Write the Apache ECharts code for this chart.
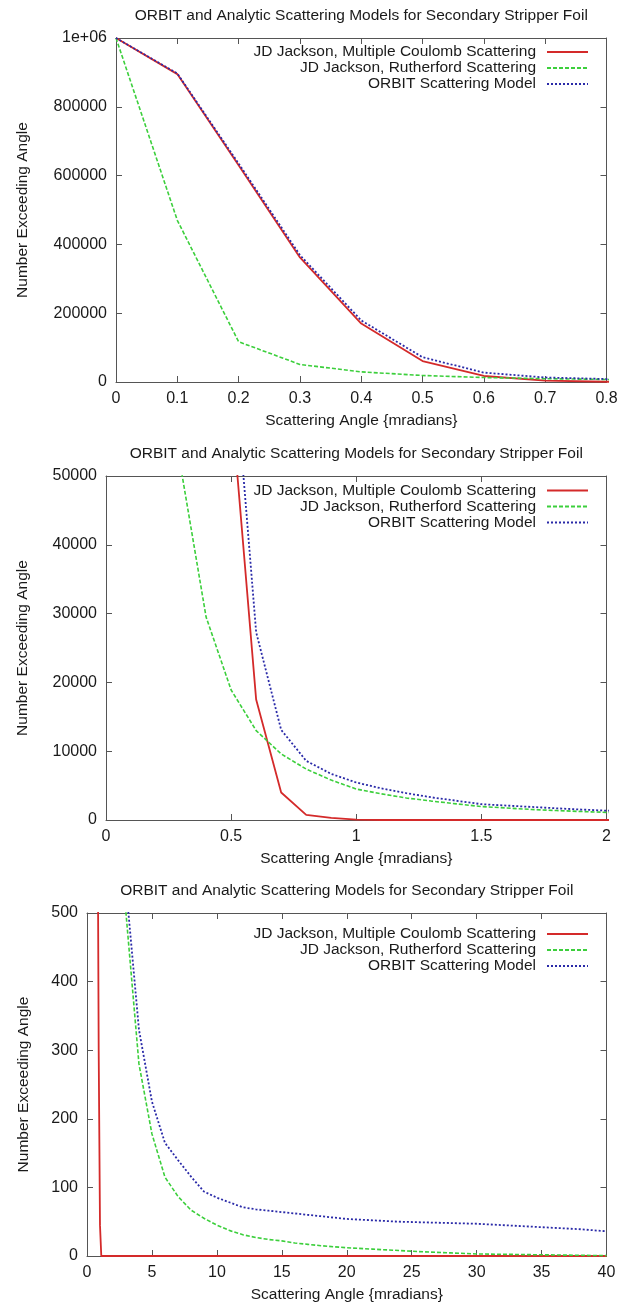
<!DOCTYPE html>
<html>
<head>
<meta charset="utf-8">
<title>ORBIT and Analytic Scattering Models</title>
<script src="https://cdn.jsdelivr.net/npm/echarts@6/dist/echarts.min.js"></script>
<style>
  html, body { margin: 0; padding: 0; background: #fff; }
  #chart { width: 627px; height: 1304px; }
</style>
</head>
<body>
<div id="chart"></div>
<script>
// scattering angle in mradians (fine steps up to 2, then coarser)
const angles = [
  0, 0.1, 0.2, 0.3, 0.4, 0.5, 0.6, 0.7, 0.8, 0.9, 1.0,
  1.1, 1.2, 1.3, 1.4, 1.5, 1.6, 1.7, 1.8, 1.9, 2.0,
  3, 4, 5, 6, 7, 8, 9, 10, 11, 12, 13, 14, 15, 16, 17, 18, 19, 20,
  22, 24, 26, 28, 30, 32, 34, 36, 38, 40
]
// number of particles exceeding the angle
const multipleCoulomb = [
  1000000, 895000, 630000, 362000, 170000, 61000, 17500, 4000, 740, 300, 45,
  0, 0, 0, 0, 0, 0, 0, 0, 0, 0,
  0, 0, 0, 0, 0, 0, 0, 0, 0, 0, 0, 0, 0, 0, 0, 0, 0, 0,
  0, 0, 0, 0, 0, 0, 0, 0, 0, 0
]
const rutherford = [
  1000000, 470000, 117000, 51000, 29500, 18900, 13000, 9600, 7400, 5800, 4500,
  3800, 3200, 2750, 2350, 1950, 1750, 1530, 1380, 1230, 1110,
  500, 280, 178, 115, 87, 67, 55, 45, 37, 31, 27, 24, 22, 19, 17, 15, 13.5, 12,
  10, 8, 6, 4.5, 3, 2.5, 2, 1.5, 1, 0.5
]
const orbitModel = [
  1000000, 897000, 635000, 369000, 179000, 72000, 27300, 13100, 8600, 6700, 5450,
  4600, 3900, 3300, 2800, 2300, 2100, 1900, 1700, 1520, 1360,
  540, 330, 225, 165, 140, 116, 94, 85, 78, 71, 68, 66, 64, 62, 60, 58, 56, 54,
  52, 50, 49, 48, 47, 45, 43, 41, 39, 36
]

const seriesNames = [
  'JD Jackson, Multiple Coulomb Scattering',
  'JD Jackson, Rutherford Scattering',
  'ORBIT Scattering Model'
]
const seriesValues = [multipleCoulomb, rutherford, orbitModel]
const titleText = 'ORBIT and Analytic Scattering Models for Secondary Stripper Foil'
const xName = 'Scattering Angle {mradians}'
const yName = 'Number Exceeding Angle'

// three zoom levels of the same data
const panels = [
  { left: 116, top: 38, xMax: 0.8, xStep: 0.1, yMax: 1000000, yStep: 200000, yGap: 85, legendTop: 44 },
  { left: 106, top: 476, xMax: 2, xStep: 0.5, yMax: 50000, yStep: 10000, yGap: 75, legendTop: 482.5 },
  { left: 87, top: 913, xMax: 40, xStep: 5, yMax: 500, yStep: 100, yGap: 55, legendTop: 926 }
]

const font = 'Liberation Sans, Arial, Helvetica, sans-serif'
const textColor = '#1a1a1a'
const axisColor = '#555'
const plotRight = 20.5
const plotHeight = 344

const lineStyles = [
  { color: '#d42a2a', width: 1.8, type: 'solid' },
  { color: '#3ccf3c', width: 1.6, type: [4, 2] },
  { color: '#2a2aa8', width: 1.8, type: [2, 2] }
]

const fmt = v => (v >= 1000000 ? '1e+06' : String(v))

function axisBase(extra) {
  return Object.assign({
    type: 'value',
    axisLine: { show: true, onZero: false, lineStyle: { color: axisColor, width: 1 } },
    axisTick: { show: true, inside: true, length: 6, lineStyle: { color: axisColor } },
    splitLine: { show: false },
    axisLabel: { color: textColor, fontSize: 16, fontFamily: font, margin: 9, formatter: fmt }
  }, extra)
}

const option = {
  animation: false,
  backgroundColor: '#fff',
  title: [], grid: [], xAxis: [], yAxis: [], legend: [], series: []
}

panels.forEach((p, i) => {
  const plotWidth = 627 - p.left - plotRight
  option.grid.push({ left: p.left, top: p.top, width: plotWidth, height: plotHeight, show: false })
  option.title.push({
    text: titleText,
    left: p.left + plotWidth / 2,
    top: p.top - 30,
    textAlign: 'center',
    padding: 0,
    textStyle: { fontSize: 15.5, fontWeight: 'normal', color: textColor, fontFamily: font }
  })
  const xr = { min: 0, max: p.xMax, interval: p.xStep, gridIndex: i }
  const yr = { min: 0, max: p.yMax, interval: p.yStep, gridIndex: i }
  option.xAxis.push(axisBase(Object.assign({
    position: 'bottom',
    name: xName,
    nameLocation: 'middle',
    nameGap: 31,
    nameTextStyle: { fontSize: 15.5, color: textColor, fontFamily: font }
  }, xr)))
  option.xAxis.push(axisBase(Object.assign({ position: 'top', axisLabel: { show: false } }, xr)))
  option.yAxis.push(axisBase(Object.assign({
    position: 'left',
    name: yName,
    nameLocation: 'middle',
    nameGap: p.yGap,
    nameTextStyle: { fontSize: 15.5, color: textColor, fontFamily: font }
  }, yr)))
  option.yAxis.push(axisBase(Object.assign({ position: 'right', axisLabel: { show: false } }, yr)))

  option.legend.push({
    data: seriesNames,
    orient: 'vertical',
    align: 'right',
    right: 38,
    top: p.legendTop,
    padding: 0,
    itemWidth: 41,
    itemHeight: 14,
    itemGap: 0,
    selectedMode: false,
    // the line sample only, no marker in the middle
    itemStyle: { opacity: 0 },
    textStyle: { fontSize: 15.5, lineHeight: 16, color: textColor, fontFamily: font, padding: [0, 6, 0, 0] }
  })

  seriesNames.forEach((name, k) => {
    option.series.push({
      name: name,
      type: 'line',
      xAxisIndex: i * 2,
      yAxisIndex: i * 2,
      symbol: 'none',
      clip: true,
      silent: true,
      lineStyle: lineStyles[k],
      itemStyle: { color: lineStyles[k].color },
      data: angles.map((a, j) => [a, seriesValues[k][j]])
    })
  })
})

const chart = echarts.init(document.getElementById('chart'), null, { renderer: 'canvas' })
chart.setOption(option)
</script>
</body>
</html>
